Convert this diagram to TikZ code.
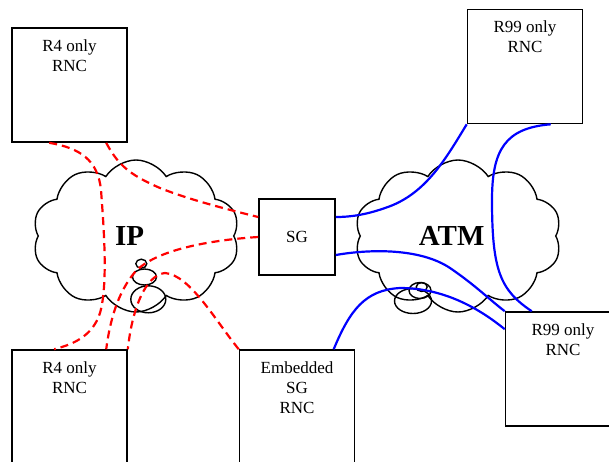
\documentclass[tikz,border=0pt]{standalone}
\usepackage{fontspec}
\setmainfont{Liberation Serif}
\usetikzlibrary{shapes.symbols,shapes.geometric}
\begin{document}
\begin{tikzpicture}[x=1pt,y=-1pt,
    rnc/.style={draw,line width=1.6pt,minimum width=115pt,minimum height=114pt,inner sep=0pt},
    txt/.style={align=center,inner sep=0pt,anchor=north,font=\fontsize{17}{20}\selectfont},
    net/.style={cloud,draw,line width=1.4pt,cloud puffs=10,cloud puff arc=115,cloud ignores aspect},
    bubble/.style={ellipse,draw,line width=1.4pt,inner sep=0pt},
    iplink/.style={draw=red,line width=2.2pt,dash pattern=on 8pt off 5pt},
    atmlink/.style={draw=blue,line width=2.2pt}]
    \useasboundingbox (0,0) rectangle (609,461);
    % clouds
    \node[net,minimum width=207pt,minimum height=152pt] (ip) at (136,236) {};
    \node[net,minimum width=207pt,minimum height=152pt] (atm) at (458,236) {};
    \node[font=\fontsize{29}{30}\selectfont\bfseries,inner sep=0pt] (ipT) at (129.5,236) {IP};
    \node[font=\fontsize{29}{30}\selectfont\bfseries,inner sep=0pt] (atmT) at (451.7,236) {ATM};
    \node[bubble,minimum width=11pt,minimum height=9pt] (ipB1) at (141.3,263.7) {};
    \node[bubble,minimum width=24pt,minimum height=16pt] (ipB2) at (144.5,277) {};
    \node[bubble,minimum width=35pt,minimum height=27pt] (ipB3) at (148.3,299.3) {};
    \node[bubble,minimum width=11pt,minimum height=9pt] (atmB1) at (421.7,287) {};
    \node[bubble,minimum width=22pt,minimum height=16pt] (atmB2) at (420,290.5) {};
    \node[bubble,minimum width=37pt,minimum height=25pt] (atmB3) at (413,301) {};
    % boxes
    \node[rnc] (r4top) at (69.5,85) {};
    \node[rnc] (r99top) at (525,66.5) {};
    \node[rnc] (r4bot) at (69.5,407) {};
    \node[rnc] (emb) at (297,407) {};
    \node[rnc] (r99bot) at (563,369) {};
    \node[draw,line width=1.6pt,minimum size=76pt,inner sep=0pt,font=\fontsize{17}{20}\selectfont] (sg) at (297,237) {SG};
    \node[txt] (r4topT) at ([yshift=-12pt]r4top.north) {R4 only\\RNC};
    \node[txt] (r99topT) at ([yshift=-12pt]r99top.north) {R99 only\\RNC};
    \node[txt] (r4botT) at ([yshift=-12pt]r4bot.north) {R4 only\\RNC};
    \node[txt] (embT) at ([yshift=-12pt]emb.north) {Embedded\\SG\\RNC};
    \node[txt] (r99botT) at ([yshift=-12pt]r99bot.north) {R99 only\\RNC};
    % end points on the boxes
    \coordinate (r4topA) at ([xshift=38pt]r4top.south west);
    \coordinate (r4topB) at ([xshift=95pt]r4top.south west);
    \coordinate (r4botA) at ([xshift=43pt]r4bot.north west);
    \coordinate (r4botB) at ([xshift=95pt]r4bot.north west);
    \coordinate (sgWa) at ([yshift=20pt]sg.west);
    \coordinate (sgEa) at ([yshift=20pt]sg.east);
    \coordinate (sgEb) at ([yshift=-18pt]sg.east);
    \coordinate (r99topA) at ([xshift=84pt]r99top.south west);
    \coordinate (r99botA) at ([xshift=27pt]r99bot.north west);
    \coordinate (r99botB) at ([yshift=-18pt]r99bot.north west);
    \coordinate (embA) at ([xshift=95pt]emb.north west);
    % IP links
    \draw[iplink] (r4topA) .. controls (80,148) and (98,160) .. (101,190)
        .. controls (104,230) and (108,285) .. (100,313)
        .. controls (92,338) and (70,345) .. (r4botA);
    \draw[iplink] (r4topB) .. controls (118,165) and (130,175) .. (160,188)
        .. controls (190,200) and (230,210) .. (sgWa);
    \draw[iplink] (sg.west) .. controls (210,240) and (155,250) .. (135,272)
        .. controls (118,292) and (110,320) .. (r4botB);
    \draw[iplink] (emb.north west) .. controls (215,320) and (190,275) .. (165,273)
        .. controls (145,275) and (132,310) .. (r4bot.north east);
    % ATM links
    \draw[atmlink] (r99top.south west) .. controls (445,160) and (425,195) .. (385,208)
        .. controls (365,215) and (350,217) .. (sgEa);
    \draw[atmlink] (r99topA) .. controls (505,128) and (492,150) .. (492,200)
        .. controls (492,270) and (500,290) .. (r99botA);
    \draw[atmlink] (sgEb) .. controls (370,249) and (420,248) .. (450,268)
        .. controls (475,285) and (490,300) .. (r99bot.north west);
    \draw[atmlink] (embA) .. controls (350,310) and (365,290) .. (400,288)
        .. controls (440,288) and (475,305) .. (r99botB);
\end{tikzpicture}
\end{document}
